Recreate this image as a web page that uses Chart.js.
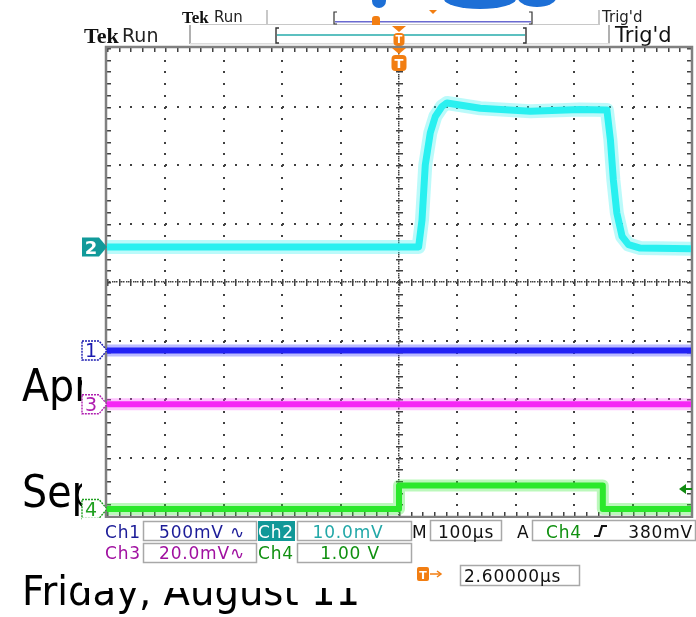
<!DOCTYPE html>
<html>
<head>
<meta charset="utf-8">
<script src="https://cdn.jsdelivr.net/npm/chart.js@4.4.0/dist/chart.umd.min.js"></script>
<style>
  html, body { margin: 0; padding: 0; background: #fff; overflow: hidden; }
  canvas { display: block; }
</style>
</head>
<body>
<canvas id="scope" width="696" height="617"></canvas>
<script>
// time in µs (100 µs/div, trigger at 0), level in screen divisions (centre line = 0)
const ch2Time = [-500, 33.6, 39.4, 45, 53.6, 62.2, 73.6, 82.2, 139, 225, 310, 356, 362, 367, 373, 382, 393, 413, 500];
const ch2Level = [0.6, 0.6, 1.06, 2.0, 2.55, 2.83, 3.0, 3.06, 2.97, 2.92, 2.95, 2.94, 2.43, 1.75, 1.18, 0.78, 0.64, 0.58, 0.57];
const ch1Time = [-500, 500];
const ch1Level = [-1.17, -1.17];
const ch3Time = [-500, 500];
const ch3Level = [-2.09, -2.09];
const ch4Time = [-500, 0, 0, 349, 349, 500];
const ch4Level = [-3.88, -3.88, -3.48, -3.48, -3.88, -3.88];

// readout texts
const chNames = ['Ch1', 'Ch2', 'Ch3', 'Ch4'];
const chScales = ['500mV \u223F', '10.0mV', '20.0mV\u223F', '1.00 V'];
const timeBase = '100\u00B5s';
const trigLevel = '380mV';
const trigDelay = '2.60000\u00B5s';
const slideLines = ['Apr', 'Sep', 'Friday, August 11'];

const pts = (t, v) => t.map((x, i) => ({ x: x, y: v[i] }));

function trace(t, v, color, halo, w) {
  return [
    { data: pts(t, v), borderColor: halo, borderWidth: w * 2, pointRadius: 0 },
    { data: pts(t, v), borderColor: color, borderWidth: w, pointRadius: 0 }
  ];
}

function text(ctx, s, x, y, font, color, align) {
  ctx.font = font;
  ctx.fillStyle = color;
  ctx.textAlign = align || 'left';
  ctx.textBaseline = 'alphabetic';
  ctx.fillText(s, x, y);
}

function squeezed(ctx, s, x, y, font, sx) {
  ctx.save();
  ctx.translate(x, y);
  ctx.scale(sx, 1);
  text(ctx, s, 0, 0, font, '#000');
  ctx.restore();
}

function box(ctx, x, y, w, h) {
  ctx.strokeStyle = '#a8a8a8';
  ctx.lineWidth = 1.5;
  ctx.strokeRect(x + 0.5, y + 0.5, w, h);
}

const ORANGE = '#f27e12';

function tMarker(ctx, cx, top, h, w, withTri) {
  ctx.fillStyle = ORANGE;
  let y0 = top;
  if (withTri) {
    ctx.beginPath();
    ctx.moveTo(cx - 7, top); ctx.lineTo(cx + 7, top); ctx.lineTo(cx, top + 6); ctx.closePath();
    ctx.fill();
    y0 = top + 7;
  }
  ctx.beginPath();
  ctx.roundRect(cx - w / 2, y0, w, h, 4);
  ctx.fill();
  text(ctx, 'T', cx, y0 + h - 3, 'bold ' + (h - 3) + 'px "DejaVu Sans"', '#fff', 'center');
}

function chMarker(ctx, label, cy, color, filled) {
  const x0 = 82, x1 = 99, x2 = 107, h = 19;
  ctx.beginPath();
  ctx.moveTo(x0, cy - h / 2); ctx.lineTo(x1, cy - h / 2); ctx.lineTo(x2, cy);
  ctx.lineTo(x1, cy + h / 2); ctx.lineTo(x0, cy + h / 2); ctx.closePath();
  if (filled) {
    ctx.fillStyle = color; ctx.fill();
    text(ctx, label, 91, cy + 7, 'bold 18px "DejaVu Sans"', '#fff', 'center');
  } else {
    ctx.fillStyle = '#fff'; ctx.fill();
    ctx.strokeStyle = color; ctx.lineWidth = 1.4; ctx.setLineDash([2, 1]); ctx.stroke(); ctx.setLineDash([]);
    text(ctx, label, 91, cy + 7, '19px "DejaVu Sans"', color, 'center');
  }
}

const scopeArt = {
  id: 'scopeArt',
  beforeDraw(chart) {
    const { ctx, chartArea: a, scales: { x, y } } = chart;
    ctx.save();
    ctx.fillStyle = '#fff';
    ctx.fillRect(0, 0, chart.width, chart.height);

    // slide underneath
    ctx.fillStyle = '#1d6fd6';
    ctx.beginPath(); ctx.ellipse(379, 1, 7, 7, 0, 0, Math.PI * 2); ctx.fill();
    ctx.beginPath(); ctx.ellipse(480, -1, 36, 10, 0, 0, Math.PI * 2); ctx.fill();
    ctx.beginPath(); ctx.ellipse(537, -2, 19, 9, 0, 0, Math.PI * 2); ctx.fill();
    squeezed(ctx, slideLines[0], 22, 401, '44px "DejaVu Sans"', 0.9);
    squeezed(ctx, slideLines[1], 22, 507, '44px "DejaVu Sans"', 0.9);
    ctx.font = '40px "DejaVu Sans"';
    const fw = ctx.measureText(slideLines[2]).width;
    squeezed(ctx, slideLines[2], 22, 605, '40px "DejaVu Sans"', 338 / fw);

    // scope screenshots cover it
    ctx.fillStyle = '#fff';
    ctx.fillRect(82, 9, 614, 574);

    // back header
    text(ctx, 'Tek', 182, 23, 'bold 17px "Liberation Serif"', '#111');
    text(ctx, 'Run', 214, 22, '15px "DejaVu Sans"', '#222');
    ctx.fillStyle = '#c8c8c8';
    ctx.fillRect(266, 10, 2, 15);
    ctx.fillRect(598, 10, 2, 15);
    ctx.fillRect(200, 24, 400, 1.5);
    ctx.strokeStyle = '#333'; ctx.lineWidth = 1.2;
    ctx.beginPath(); ctx.moveTo(337, 12); ctx.lineTo(334, 12); ctx.lineTo(334, 24); ctx.lineTo(337, 24); ctx.stroke();
    ctx.beginPath(); ctx.moveTo(529, 12); ctx.lineTo(532, 12); ctx.lineTo(532, 24); ctx.lineTo(529, 24); ctx.stroke();
    ctx.fillStyle = '#6a6ad0';
    ctx.fillRect(335, 21, 196, 1.5);
    ctx.fillStyle = ORANGE;
    ctx.beginPath(); ctx.roundRect(372, 16, 8, 13, 3); ctx.fill();
    ctx.beginPath(); ctx.moveTo(429, 10); ctx.lineTo(437, 10); ctx.lineTo(433, 14); ctx.closePath(); ctx.fill();
    text(ctx, "Trig'd", 602, 22, '15px "DejaVu Sans"', '#222');

    // front header
    ctx.fillStyle = '#fff';
    ctx.fillRect(82, 25, 614, 22);
    text(ctx, 'Tek', 84, 43, 'bold 22px "Liberation Serif"', '#111');
    text(ctx, 'Run', 122, 42, '19px "DejaVu Sans"', '#222');
    ctx.fillStyle = '#b0b0b0';
    ctx.fillRect(189, 25, 2, 19);
    ctx.fillRect(608, 25, 2, 19);
    ctx.fillStyle = '#dcdcdc';
    ctx.fillRect(190, 43, 420, 1.5);
    ctx.strokeStyle = '#333'; ctx.lineWidth = 1.4;
    ctx.beginPath(); ctx.moveTo(279, 28); ctx.lineTo(276, 28); ctx.lineTo(276, 43); ctx.lineTo(279, 43); ctx.stroke();
    ctx.beginPath(); ctx.moveTo(523, 28); ctx.lineTo(526, 28); ctx.lineTo(526, 43); ctx.lineTo(523, 43); ctx.stroke();
    ctx.fillStyle = '#5cc0c0';
    ctx.fillRect(277, 34, 248, 2);
    tMarker(ctx, 399, 26, 13, 11, true);
    text(ctx, "Trig'd", 615, 42, '21px "DejaVu Sans"', '#111');

    // graticule
    ctx.fillStyle = '#404040';
    for (let i = -4; i <= 4; i++) {
      if (i === 0) continue;
      const px = x.getPixelForValue(i * 100);
      for (let j = -19; j <= 19; j++) {
        const py = y.getPixelForValue(j / 5);
        ctx.fillRect(Math.round(px) - 1, Math.round(py), 2, 2);
      }
    }
    for (let j = -3; j <= 3; j++) {
      if (j === 0) continue;
      const py = y.getPixelForValue(j);
      for (let i = -24; i <= 24; i++) {
        const px = x.getPixelForValue(i * 20);
        ctx.fillRect(Math.round(px), Math.round(py) - 1, 2, 2);
      }
    }
    // centre lines: fine dots plus ticks
    const cx = Math.round(x.getPixelForValue(0)), cy = Math.round(y.getPixelForValue(0));
    for (let j = -100; j <= 100; j++) {
      const py = y.getPixelForValue(j / 25);
      ctx.fillRect(cx - 1, Math.round(py), 1.5, 1.5);
      if (j % 5 === 0) ctx.fillRect(cx - 3, Math.round(py), 7, 1.5);
    }
    for (let i = -125; i <= 125; i++) {
      const px = x.getPixelForValue(i * 4);
      ctx.fillRect(Math.round(px), cy - 1, 1.5, 1.5);
      if (i % 5 === 0) ctx.fillRect(Math.round(px), cy - 3, 1.5, 7);
    }
    // border ticks
    for (let i = -25; i <= 25; i++) {
      const px = Math.round(x.getPixelForValue(i * 20));
      ctx.fillRect(px, a.top, 1.5, 4);
      ctx.fillRect(px, a.bottom - 4, 1.5, 4);
    }
    for (let j = -20; j <= 20; j++) {
      const py = Math.round(y.getPixelForValue(j / 5));
      ctx.fillRect(a.left, py, 4, 1.5);
      ctx.fillRect(a.right - 4, py, 4, 1.5);
    }
    ctx.strokeStyle = '#808080';
    ctx.lineWidth = 2.5;
    ctx.strokeRect(a.left - 1, a.top - 1, a.right - a.left + 2, a.bottom - a.top + 2);
    ctx.restore();
  },
  afterDatasetsDraw(chart) {
    const { ctx, chartArea: a, scales: { y } } = chart;
    ctx.save();
    tMarker(ctx, 399, a.top, 16, 15, true);

    chMarker(ctx, '2', y.getPixelForValue(ch2Level[0]), '#119a9a', true);
    chMarker(ctx, '1', y.getPixelForValue(ch1Level[0]), '#1a1ab0', false);
    chMarker(ctx, '3', y.getPixelForValue(ch3Level[0]), '#b020b0', false);
    chMarker(ctx, '4', y.getPixelForValue(ch4Level[0]), '#20a020', false);

    // trigger level arrow
    ctx.strokeStyle = '#108a10'; ctx.fillStyle = '#108a10'; ctx.lineWidth = 2;
    ctx.beginPath(); ctx.moveTo(683, 489); ctx.lineTo(692, 489); ctx.stroke();
    ctx.beginPath(); ctx.moveTo(679, 489); ctx.lineTo(686, 484); ctx.lineTo(686, 494); ctx.closePath(); ctx.fill();

    // readout
    const f = '17px "DejaVu Sans"';
    ctx.letterSpacing = '0.8px';
    ctx.fillStyle = '#fff';
    ctx.fillRect(82, a.bottom + 2, 614, 70);
    text(ctx, chNames[0], 105, 538, f, '#1c1c98');
    box(ctx, 143, 521, 113, 19);
    text(ctx, chScales[0], 202, 538, f, '#1c1c98', 'center');
    ctx.fillStyle = '#119898';
    ctx.fillRect(258, 521, 37, 20);
    text(ctx, chNames[1], 258, 538, f, '#fff');
    box(ctx, 297, 521, 114, 19);
    text(ctx, chScales[1], 348, 538, f, '#23a8a8', 'center');
    text(ctx, 'M', 412, 538, f, '#111');
    box(ctx, 430, 520, 71, 20);
    text(ctx, timeBase, 466, 538, f, '#111', 'center');
    text(ctx, 'A', 517, 538, f, '#111');
    box(ctx, 532, 520, 163, 20);
    text(ctx, chNames[3], 546, 538, f, '#109010');
    ctx.strokeStyle = '#111'; ctx.lineWidth = 2.2;
    ctx.beginPath(); ctx.moveTo(594, 536); ctx.lineTo(599, 536); ctx.lineTo(602, 526); ctx.lineTo(607, 526); ctx.stroke();
    text(ctx, trigLevel, 693, 538, f, '#111', 'right');

    text(ctx, chNames[2], 105, 559, f, '#a010a0');
    box(ctx, 143, 543, 113, 19);
    text(ctx, chScales[2], 202, 559, f, '#a010a0', 'center');
    text(ctx, chNames[3], 258, 559, f, '#109010');
    box(ctx, 297, 543, 114, 19);
    text(ctx, chScales[3], 350, 559, f, '#109010', 'center');

    ctx.letterSpacing = '0px';
    ctx.fillStyle = ORANGE;
    ctx.beginPath(); ctx.roundRect(417, 567, 12, 14, 2); ctx.fill();
    text(ctx, 'T', 423, 579, 'bold 11px "DejaVu Sans"', '#fff', 'center');
    ctx.strokeStyle = ORANGE; ctx.lineWidth = 1.5;
    ctx.beginPath(); ctx.moveTo(430, 574); ctx.lineTo(440, 574); ctx.stroke();
    ctx.beginPath(); ctx.moveTo(437, 571); ctx.lineTo(441, 574); ctx.lineTo(437, 577); ctx.stroke();
    ctx.beginPath(); ctx.moveTo(443, 569); ctx.lineTo(454, 569); ctx.lineTo(448.5, 575); ctx.closePath(); ctx.fill();
    box(ctx, 460, 565, 119, 20);
    ctx.letterSpacing = '0.8px';
    text(ctx, trigDelay, 464, 582, f, '#111');
    ctx.restore();
  }
};

new Chart(document.getElementById('scope'), {
  type: 'line',
  data: {
    datasets: [
      ...trace(ch1Time, ch1Level, '#1414f0', 'rgba(60,60,255,0.35)', 6),
      ...trace(ch3Time, ch3Level, '#f010f0', 'rgba(255,80,255,0.35)', 6),
      ...trace(ch4Time, ch4Level, '#22e622', 'rgba(60,235,60,0.35)', 6),
      ...trace(ch2Time, ch2Level, '#20f0f0', 'rgba(60,240,240,0.35)', 7)
    ]
  },
  options: {
    responsive: false,
    animation: false,
    events: [],
    layout: { padding: { left: 107, right: 5, top: 48, bottom: 101 } },
    scales: {
      x: { type: 'linear', min: -500, max: 500, display: false },
      y: { min: -4, max: 4, display: false }
    },
    elements: { line: { tension: 0, borderJoinStyle: 'round' } },
    plugins: { legend: { display: false }, tooltip: { enabled: false } }
  },
  plugins: [scopeArt]
});
</script>
</body>
</html>
